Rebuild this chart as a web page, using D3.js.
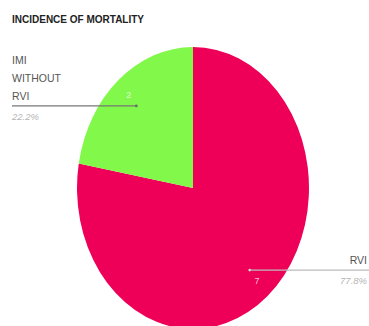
<!DOCTYPE html>
<html>
<head>
<meta charset="utf-8">
<script src="https://cdn.jsdelivr.net/npm/d3@7"></script>
<style>
  html, body { margin: 0; padding: 0; background: #fff; }
  svg { display: block; font-family: "Liberation Sans", Arial, sans-serif; }
</style>
</head>
<body>
<svg id="chart" width="369" height="326"></svg>
<script>
// Mortality counts by group
const categories = ["RVI", "IMI WITHOUT RVI"];
const counts = [7, 2];
const percentLabels = ["77.8%", "22.2%"];
const nameLines = [["RVI"], ["IMI", "WITHOUT", "RVI"]];
const sliceColors = ["#EE0058", "#82F84A"];
const title = "INCIDENCE OF MORTALITY";

const svg = d3.select("#chart");
const W = 369, H = 326;

svg.append("text")
  .attr("x", 12).attr("y", 23)
  .attr("font-size", 10).attr("font-weight", "bold")
  .attr("fill", "#222")
  .text(title);

// Elliptical pie: circle of radius rx stretched vertically
const cx = 193, cy = 188, rx = 116, ry = 141;
const sy = ry / rx;

const pie = d3.pie().sort(null).value(d => d)(counts);
const arc = d3.arc().innerRadius(0).outerRadius(rx);

const g = svg.append("g").attr("transform", `translate(${cx},${cy})`);
g.append("g").attr("transform", `scale(1,${sy})`)
  .selectAll("path").data(pie).join("path")
  .attr("d", arc)
  .attr("fill", (d, i) => sliceColors[i]);

// Point on the ellipse along a slice's mid-angle at a fraction of the radius
function along(d, f) {
  const a = (d.startAngle + d.endAngle) / 2;
  return [cx + Math.sin(a) * rx * f, cy - Math.cos(a) * ry * f];
}

pie.forEach((d, i) => {
  const left = Math.sin((d.startAngle + d.endAngle) / 2) < 0;
  const [lx, ly] = along(d, 0.76);
  const [vx, vy] = along(d, 0.86);
  const xEdge = left ? 12 : 367;
  const anchor = left ? "start" : "end";

  // leader line: dark over the slice, grey outside it
  svg.append("line")
    .attr("x1", lx).attr("y1", ly).attr("x2", left ? xEdge : W).attr("y2", ly)
    .attr("stroke", left ? "#777" : "#bbb").attr("stroke-width", 1.2);
  svg.append("circle").attr("cx", lx).attr("cy", ly).attr("r", 1.3)
    .attr("fill", left ? "#666" : "#d4d4d4");

  // value inside the slice
  svg.append("text")
    .attr("x", vx).attr("y", vy + 3).attr("text-anchor", "middle")
    .attr("font-size", 9).attr("fill", "#fff").attr("fill-opacity", 0.75)
    .text(counts[i]);

  // category name above the line
  const lines = nameLines[i];
  lines.forEach((t, k) => {
    svg.append("text")
      .attr("x", xEdge).attr("y", ly - 6 - (lines.length - 1 - k) * 18)
      .attr("text-anchor", anchor)
      .attr("font-size", 10.5).attr("fill", "#555")
      .text(t);
  });

  // percentage below the line
  svg.append("text")
    .attr("x", xEdge).attr("y", ly + 14)
    .attr("text-anchor", anchor)
    .attr("font-size", 9.5).attr("font-style", "italic").attr("fill", "#b5b5b5")
    .text(percentLabels[i]);
});
</script>
</body>
</html>
